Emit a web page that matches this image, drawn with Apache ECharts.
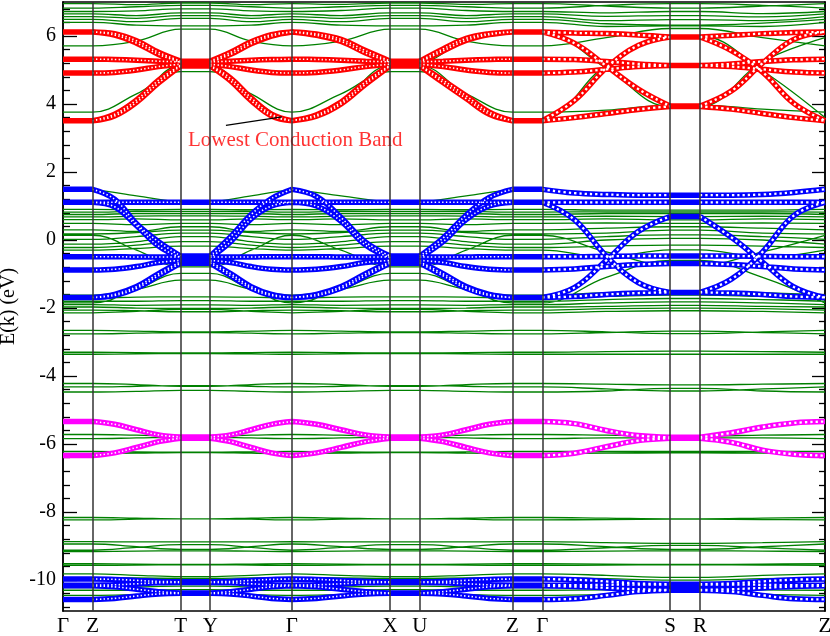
<!DOCTYPE html>
<html><head><meta charset="utf-8">
<script src="https://cdn.jsdelivr.net/npm/echarts@6/dist/echarts.min.js"></script>
<style>html,body{margin:0;padding:0;background:#fff}#c{width:830px;height:636px}</style>
</head><body><div id="c"></div>
<script>
// ---- k-path: high-symmetry points ----
const K_LABELS = ['Γ','Z','T','Y','Γ','X','U','Z','Γ','S','R','Z'];
const K_TICKS = [0,29.6,117.6,147.3,229,327.3,357,449.6,479.6,607.3,637.3,762.3];
const V_LINES = [29.6,117.6,147.3,229,327.3,357,449.6,479.6,607.3,637.3];
// nodes for fat (projected) bands: HS points + 3 interior points per dispersive segment
const K_FAT = [0,29.6,51.6,73.6,95.6,117.6,147.3,167.7,188.2,208.6,229,253.6,278.2,302.7,327.3,357,380.2,403.3,426.5,449.6,479.6,511.5,543.5,575.4,607.3,637.3,668.6,699.8,731.1,762.3];
// nodes for plain bands: HS points + middle of each dispersive segment
const K_GREEN = [0,29.6,73.6,117.6,147.3,188.2,229,278.2,327.3,357,403.3,449.6,479.6,543.5,607.3,637.3,699.8,762.3];

// ---- y ticks ----
const Y_MAJOR = [-10,-8,-6,-4,-2,0,2,4,6];
const Y_MINOR = [-10.8,-10.4,-9.6,-9.2,-8.8,-8.4,-7.6,-7.2,-6.8,-6.4,-5.6,-5.2,-4.8,-4.4,-3.6,-3.2,-2.8,-2.4,-1.6,-1.2,-0.8,-0.4,0.4,0.8,1.2,1.6,2.4,2.8,3.2,3.6,4.4,4.8,5.2,5.6,6.4,6.8];

// ---- projected bands (red: conduction) ----
const RED1 = [6.12,6.12, 6.07,5.86,5.52, 5.26, 5.26, 5.52,5.83,6.04, 6.12, 6.06,5.9,5.57, 5.26, 5.26, 5.62,5.93,6.07, 6.12, 6.12, 6.09,6.07,6.03, 5.97, 5.97, 6.02,6.07,6.1, 6.12];
const RED2 = [6.12,6.12, 6.03,5.79,5.46, 5.23, 5.23, 5.46,5.77,6.0, 6.12, 6.02,5.84,5.5, 5.23, 5.23, 5.56,5.87,6.04, 6.12, 6.12, 5.79,5.12,4.44, 3.94, 3.94, 4.38,5.2,5.9, 6.12];
const RED3 = [5.32,5.32, 5.31,5.29,5.26, 5.24, 5.24, 5.26,5.29,5.31, 5.32, 5.31,5.29,5.26, 5.24, 5.24, 5.26,5.29,5.31, 5.32, 5.32, 5.31,5.25,5.18, 5.13, 5.13, 5.18,5.25,5.3, 5.32];
const RED4 = [4.91,4.91, 4.93,5.0,5.1, 5.17, 5.17, 5.1,5.0,4.93, 4.91, 4.93,5.0,5.1, 5.17, 5.17, 5.1,5.0,4.93, 4.91, 4.91, 4.94,5.02,5.1, 5.13, 5.13, 5.1,5.02,4.94, 4.91];
const RED5 = [3.51,3.51, 3.7,4.12,4.7, 5.14, 5.14, 4.76,4.18,3.7, 3.51, 3.68,4.06,4.65, 5.14, 5.14, 4.7,4.24,3.76, 3.51, 3.51, 4.1,5.06,5.72, 5.97, 5.97, 5.57,4.94,4.02, 3.51];
const RED6 = [3.51,3.51, 3.65,4.05,4.62, 5.12, 5.12, 4.68,4.1,3.65, 3.51, 3.64,4.0,4.58, 5.12, 5.12, 4.63,4.16,3.7, 3.51, 3.51, 3.6,3.72,3.84, 3.93, 3.93, 3.85,3.72,3.6, 3.51];
// ---- blue: upper valence ----
const BLUE1 = [1.49,1.49, 1.2,0.48,-0.05, -0.47, -0.47, 0.1,0.75,1.22, 1.49, 1.28,0.66,-0.06, -0.47, -0.47, 0.06,0.73,1.25, 1.49, 1.49, 1.38,1.34,1.32, 1.32, 1.32, 1.32,1.34,1.4, 1.49];
const BLUE2 = [1.11,1.11, 0.98,0.42,-0.18, -0.52, -0.52, -0.05,0.62,1.0, 1.11, 1.0,0.55,-0.15, -0.52, -0.52, -0.05,0.6,1.0, 1.11, 1.11, 0.6,-0.47,-1.25, -1.54, -1.54, -1.15,-0.35,0.72, 1.11];
const BLUE3 = [1.11,1.11, 1.11,1.11,1.11, 1.11, 1.11, 1.11,1.11,1.11, 1.11, 1.11,1.11,1.11, 1.11, 1.11, 1.11,1.11,1.11, 1.11, 1.11, 1.11,1.11,1.11, 1.11, 1.11, 1.11,1.11,1.11, 1.11];
const BLUE4 = [-0.49,-0.49, -0.49,-0.5,-0.5, -0.5, -0.5, -0.5,-0.5,-0.49, -0.49, -0.49,-0.5,-0.5, -0.5, -0.5, -0.5,-0.5,-0.49, -0.49, -0.49, -0.49,-0.48,-0.47, -0.47, -0.47, -0.47,-0.48,-0.49, -0.49];
const BLUE5 = [-0.88,-0.88, -0.86,-0.78,-0.66, -0.6, -0.6, -0.66,-0.78,-0.86, -0.88, -0.86,-0.78,-0.66, -0.6, -0.6, -0.66,-0.78,-0.86, -0.88, -0.88, -0.85,-0.78,-0.72, -0.69, -0.69, -0.72,-0.78,-0.85, -0.88];
const BLUE6 = [-1.69,-1.69, -1.6,-1.37,-0.99, -0.64, -0.64, -0.99,-1.37,-1.6, -1.69, -1.6,-1.37,-0.99, -0.64, -0.64, -0.99,-1.37,-1.6, -1.69, -1.69, -1.4,-0.6,0.25, 0.69, 0.69, 0.08,-0.65,-1.38, -1.69];
const BLUE7 = [-1.69,-1.69, -1.63,-1.42,-1.05, -0.68, -0.68, -1.05,-1.42,-1.63, -1.69, -1.63,-1.42,-1.05, -0.68, -0.68, -1.05,-1.42,-1.63, -1.69, -1.69, -1.66,-1.6,-1.56, -1.54, -1.54, -1.56,-1.6,-1.66, -1.69];
// ---- magenta ----
const MAG1 = [-5.34,-5.34, -5.42,-5.58,-5.73, -5.79, -5.79, -5.73,-5.58,-5.42, -5.34, -5.42,-5.58,-5.73, -5.79, -5.79, -5.73,-5.58,-5.42, -5.34, -5.34, -5.4,-5.6,-5.75, -5.8, -5.8, -5.67,-5.5,-5.38, -5.34];
const MAG2 = [-6.34,-6.34, -6.26,-6.1,-5.93, -5.83, -5.83, -5.93,-6.1,-6.26, -6.34, -6.26,-6.1,-5.93, -5.83, -5.83, -5.93,-6.1,-6.26, -6.34, -6.34, -6.27,-6.08,-5.9, -5.83, -5.83, -5.95,-6.18,-6.3, -6.34];
// ---- blue: deep bands ----
const LOW1 = [-9.97,-9.97, -9.98,-10.01,-10.04, -10.05, -10.05, -10.04,-10.01,-9.98, -9.97, -9.98,-10.01,-10.04, -10.05, -10.05, -10.04,-10.01,-9.98, -9.97, -9.97, -9.99,-10.04,-10.1, -10.12, -10.12, -10.1,-10.04,-9.99, -9.97];
const LOW2 = [-10.15,-10.15, -10.14,-10.11,-10.08, -10.07, -10.07, -10.08,-10.11,-10.14, -10.15, -10.14,-10.11,-10.08, -10.07, -10.07, -10.08,-10.11,-10.14, -10.15, -10.15, -10.15,-10.14,-10.13, -10.13, -10.13, -10.13,-10.14,-10.15, -10.15];
const LOW3 = [-10.17,-10.17, -10.2,-10.27,-10.34, -10.38, -10.38, -10.34,-10.27,-10.2, -10.17, -10.2,-10.27,-10.34, -10.38, -10.38, -10.34,-10.27,-10.2, -10.17, -10.17, -10.19,-10.23,-10.27, -10.29, -10.29, -10.27,-10.23,-10.19, -10.17];
const LOW4 = [-10.57,-10.57, -10.54,-10.47,-10.41, -10.39, -10.39, -10.41,-10.47,-10.54, -10.57, -10.54,-10.47,-10.41, -10.39, -10.39, -10.41,-10.47,-10.54, -10.57, -10.57, -10.55,-10.45,-10.34, -10.3, -10.3, -10.34,-10.45,-10.55, -10.57];

// ---- all bands (green), 18 nodes each ----
const G_TOP1 = [6.95,6.95, 6.92, 6.97,6.97, 6.92, 6.95, 6.93, 6.97,6.97, 6.93, 6.95,6.95, 6.88, 6.82,6.82, 6.88, 6.95];
const G_TOP2 = [6.82,6.82, 6.86, 6.9,6.9, 6.86, 6.82, 6.86, 6.9,6.9, 6.86, 6.82,6.82, 6.9, 6.95,6.95, 6.9, 6.82];
const G_TOP3 = [6.72,6.72, 6.74, 6.8,6.8, 6.74, 6.72, 6.75, 6.82,6.82, 6.75, 6.72,6.72, 6.68, 6.72,6.72, 6.66, 6.72];
const G_TOP4 = [6.65,6.65, 6.6, 6.68,6.68, 6.6, 6.65, 6.6, 6.68,6.68, 6.6, 6.65,6.65, 6.58, 6.6,6.6, 6.56, 6.65];
const G_TOP5 = [6.57,6.57, 6.52, 6.6,6.6, 6.52, 6.57, 6.52, 6.6,6.6, 6.52, 6.57,6.57, 6.45, 6.48,6.48, 6.45, 6.57];
const G_TOP6 = [6.49,6.49, 6.42, 6.52,6.52, 6.42, 6.49, 6.42, 6.52,6.52, 6.42, 6.49,6.49, 6.36, 6.32,6.32, 6.38, 6.49];
const G_TOP7 = [6.4,6.4, 6.32, 6.3,6.3, 6.32, 6.4, 6.32, 6.3,6.3, 6.32, 6.4,6.4, 6.28, 6.3,6.3, 6.28, 6.4];
const G_C1 = [5.71,5.71, 5.85, 6.2,6.2, 5.85, 5.71, 5.85, 6.2,6.2, 5.85, 5.71,5.71, 5.95, 6.22,6.22, 5.95, 5.71];
const G_C2 = [3.76,3.76, 4.3, 4.95,4.95, 4.3, 3.76, 4.3, 4.95,4.95, 4.3, 3.76,3.76, 3.82, 3.97,3.97, 3.85, 3.76];
const G_C3 = [3.56,3.56, 4.15, 5.12,5.12, 4.2, 3.56, 4.1, 5.12,5.12, 4.25, 3.56,3.56, 5.15, 6.0,6.0, 4.98, 3.6];
const G_C4 = [6.1,6.1, 5.8, 5.24,5.24, 5.78, 6.1, 5.84, 5.24,5.24, 5.88, 6.1,6.1, 5.05, 3.92,3.92, 5.25, 5.95];
const G_V0 = [1.46,1.46, 1.3, 1.14,1.14, 1.3, 1.46, 1.3, 1.14,1.14, 1.3, 1.46,1.46, 1.38, 1.3,1.3, 1.38, 1.46];
const G_V1 = [0.9,0.9, 0.89, 0.9,0.9, 0.89, 0.9, 0.89, 0.9,0.9, 0.89, 0.9,0.9, 0.88, 0.88,0.88, 0.88, 0.9];
const G_V2 = [0.82,0.82, 0.84, 0.84,0.84, 0.84, 0.82, 0.84, 0.84,0.84, 0.84, 0.82,0.82, 0.83, 0.83,0.83, 0.83, 0.82];
const G_V3 = [0.75,0.75, 0.78, 0.78,0.78, 0.78, 0.75, 0.78, 0.78,0.78, 0.78, 0.75,0.75, 0.78, 0.78,0.78, 0.78, 0.75];
const G_V4 = [0.68,0.68, 0.7, 0.71,0.71, 0.7, 0.68, 0.7, 0.71,0.71, 0.7, 0.68,0.68, 0.7, 0.69,0.69, 0.7, 0.68];
const G_V5 = [0.6,0.6, 0.62, 0.59,0.59, 0.62, 0.6, 0.62, 0.59,0.59, 0.62, 0.6,0.6, 0.62, 0.59,0.59, 0.62, 0.6];
const G_V6 = [0.49,0.49, 0.45, 0.49,0.49, 0.45, 0.49, 0.45, 0.49,0.49, 0.45, 0.49,0.49, 0.5, 0.49,0.49, 0.5, 0.49];
const G_V7 = [0.3,0.3, 0.25, 0.39,0.39, 0.25, 0.3, 0.25, 0.39,0.39, 0.25, 0.3,0.3, 0.35, 0.39,0.39, 0.35, 0.3];
const G_V8 = [0.18,0.18, 0.22, 0.29,0.29, 0.22, 0.18, 0.22, 0.29,0.29, 0.22, 0.18,0.18, 0.2, 0.29,0.29, 0.2, 0.18];
const G_V9 = [0.02,0.02, 0.1, 0.2,0.2, 0.1, 0.02, 0.1, 0.2,0.2, 0.1, 0.02,0.02, 0.1, 0.15,0.15, 0.1, 0.02];
const G_V10 = [-0.12,-0.12, -0.05, 0.1,0.1, -0.05, -0.12, -0.05, 0.1,0.1, -0.05, -0.12,-0.12, 0.0, 0.05,0.05, 0.0, -0.12];
const G_V11 = [-0.22,-0.22, -0.15, -0.05,-0.05, -0.15, -0.22, -0.15, -0.05,-0.05, -0.15, -0.22,-0.22, -0.18, -0.15,-0.15, -0.18, -0.22];
const G_V12 = [0.14,0.14, -0.3, -0.79,-0.79, -0.3, 0.14, -0.3, -0.79,-0.79, -0.3, 0.14,0.14, -0.35, -0.74,-0.74, -0.35, 0.14];
const G_V13 = [-0.3,-0.3, -0.25, -0.18,-0.18, -0.25, -0.3, -0.25, -0.18,-0.18, -0.25, -0.3,-0.3, -0.5, -0.29,-0.29, -0.5, -0.3];
const G_V14 = [-1.85,-1.85, -1.45, -0.98,-0.98, -1.45, -1.85, -1.45, -0.98,-0.98, -1.45, -1.85,-1.85, -1.1, -0.6,-0.6, -1.1, -1.85];
const G_V15 = [-1.62,-1.62, -1.45, -1.18,-1.18, -1.45, -1.62, -1.45, -1.18,-1.18, -1.45, -1.62,-1.62, -1.55, -1.52,-1.52, -1.55, -1.62];
const G_V16 = [-1.7,-1.7, -1.68, -1.67,-1.67, -1.68, -1.7, -1.68, -1.67,-1.67, -1.68, -1.7,-1.7, -1.66, -1.62,-1.62, -1.66, -1.7];
const G_V17 = [-1.8,-1.8, -1.8, -1.78,-1.78, -1.8, -1.8, -1.8, -1.78,-1.78, -1.8, -1.8,-1.8, -1.75, -1.72,-1.72, -1.75, -1.8];
const G_V18 = [-1.9,-1.9, -1.92, -1.91,-1.91, -1.92, -1.9, -1.92, -1.91,-1.91, -1.92, -1.9,-1.9, -1.85, -1.82,-1.82, -1.85, -1.9];
const G_V19 = [-1.97,-1.97, -2.0, -2.01,-2.01, -2.0, -1.97, -2.0, -2.01,-2.01, -2.0, -1.97,-1.97, -1.95, -1.92,-1.92, -1.95, -1.97];
const G_V20 = [-2.06,-2.06, -2.08, -2.11,-2.11, -2.08, -2.06, -2.08, -2.11,-2.11, -2.08, -2.06,-2.06, -2.02, -2.0,-2.0, -2.02, -2.06];
const G_V21 = [-2.14,-2.14, -2.1, -2.04,-2.04, -2.1, -2.14, -2.1, -2.04,-2.04, -2.1, -2.14,-2.14, -2.1, -2.08,-2.08, -2.1, -2.14];
const G_L1 = [-2.66,-2.66, -2.68, -2.7,-2.7, -2.68, -2.66, -2.68, -2.7,-2.7, -2.68, -2.66,-2.66, -2.7, -2.75,-2.75, -2.7, -2.66];
const G_L2 = [-2.76,-2.76, -2.74, -2.72,-2.72, -2.74, -2.76, -2.74, -2.72,-2.72, -2.74, -2.76,-2.76, -2.72, -2.68,-2.68, -2.72, -2.76];
const G_L3 = [-3.3,-3.3, -3.31, -3.32,-3.32, -3.31, -3.3, -3.31, -3.32,-3.32, -3.31, -3.3,-3.3, -3.28, -3.27,-3.27, -3.28, -3.3];
const G_L4 = [-3.36,-3.36, -3.35, -3.34,-3.34, -3.35, -3.36, -3.35, -3.34,-3.34, -3.35, -3.36,-3.36, -3.36, -3.36,-3.36, -3.36, -3.36];
const G_L5 = [-4.22,-4.22, -4.25, -4.3,-4.3, -4.25, -4.22, -4.25, -4.3,-4.3, -4.25, -4.22,-4.22, -4.24, -4.26,-4.26, -4.24, -4.22];
const G_L6 = [-4.32,-4.32, -4.3, -4.28,-4.28, -4.3, -4.32, -4.3, -4.28,-4.28, -4.3, -4.32,-4.32, -4.38, -4.44,-4.44, -4.38, -4.32];
const G_L7 = [-4.47,-4.47, -4.45, -4.42,-4.42, -4.45, -4.47, -4.45, -4.42,-4.42, -4.45, -4.47,-4.47, -4.44, -4.36,-4.36, -4.44, -4.47];
const G_L8 = [-5.72,-5.72, -5.74, -5.76,-5.76, -5.74, -5.72, -5.74, -5.76,-5.76, -5.74, -5.72,-5.72, -5.74, -5.76,-5.76, -5.74, -5.72];
const G_L9 = [-5.84,-5.84, -5.82, -5.8,-5.8, -5.82, -5.84, -5.82, -5.8,-5.8, -5.82, -5.84,-5.84, -5.82, -5.82,-5.82, -5.82, -5.84];
const G_L10 = [-6.22,-6.22, -6.23, -6.24,-6.24, -6.23, -6.22, -6.23, -6.24,-6.24, -6.23, -6.22,-6.22, -6.22, -6.22,-6.22, -6.22, -6.22];
const G_L11 = [-6.28,-6.28, -6.27, -6.25,-6.25, -6.27, -6.28, -6.27, -6.25,-6.25, -6.27, -6.28,-6.28, -6.27, -6.26,-6.26, -6.27, -6.28];
const G_L12 = [-8.16,-8.16, -8.18, -8.2,-8.2, -8.18, -8.16, -8.18, -8.2,-8.2, -8.18, -8.16,-8.16, -8.18, -8.2,-8.2, -8.18, -8.16];
const G_L13 = [-8.23,-8.23, -8.21, -8.2,-8.2, -8.21, -8.23, -8.21, -8.2,-8.2, -8.21, -8.23,-8.23, -8.22, -8.21,-8.21, -8.22, -8.23];
const G_L14 = [-8.87,-8.87, -8.88, -8.88,-8.88, -8.88, -8.87, -8.88, -8.88,-8.88, -8.88, -8.87,-8.87, -8.9, -8.92,-8.92, -8.9, -8.87];
const G_L15 = [-8.94,-8.94, -9.02, -9.1,-9.1, -9.02, -8.94, -9.02, -9.1,-9.1, -9.02, -8.94,-8.94, -9.02, -9.1,-9.1, -9.02, -8.94];
const G_L16 = [-9.12,-9.12, -9.04, -8.96,-8.96, -9.04, -9.12, -9.04, -8.96,-8.96, -9.04, -9.12,-9.12, -9.05, -8.98,-8.98, -9.05, -9.12];
const G_L17 = [-9.16,-9.16, -9.15, -9.14,-9.14, -9.15, -9.16, -9.15, -9.14,-9.14, -9.15, -9.16,-9.16, -9.15, -9.14,-9.14, -9.15, -9.16];
const G_L18 = [-9.52,-9.52, -9.53, -9.54,-9.54, -9.53, -9.52, -9.53, -9.54,-9.54, -9.53, -9.52,-9.52, -9.53, -9.54,-9.54, -9.53, -9.52];
const G_L19 = [-9.57,-9.57, -9.56, -9.55,-9.55, -9.56, -9.57, -9.56, -9.55,-9.55, -9.56, -9.57,-9.57, -9.56, -9.55,-9.55, -9.56, -9.57];
const G_L20 = [-9.82,-9.82, -9.86, -9.9,-9.9, -9.86, -9.82, -9.86, -9.9,-9.9, -9.86, -9.82,-9.82, -9.86, -9.92,-9.92, -9.86, -9.82];
const G_L21 = [-9.93,-9.93, -9.94, -9.95,-9.95, -9.94, -9.93, -9.94, -9.95,-9.95, -9.94, -9.93,-9.93, -9.96, -10.0,-10.0, -9.96, -9.93];
const G_L22 = [-10.22,-10.22, -10.2, -10.18,-10.18, -10.2, -10.22, -10.2, -10.18,-10.18, -10.2, -10.22,-10.22, -10.2, -10.18,-10.18, -10.2, -10.22];
const G_L23 = [-10.3,-10.3, -10.3, -10.28,-10.28, -10.3, -10.3, -10.3, -10.28,-10.28, -10.3, -10.3,-10.3, -10.29, -10.26,-10.26, -10.29, -10.3];
const G_L24 = [-10.45,-10.45, -10.43, -10.4,-10.4, -10.43, -10.45, -10.43, -10.4,-10.4, -10.43, -10.45,-10.45, -10.42, -10.35,-10.35, -10.42, -10.45];

// annotation
const NOTE_TEXT = 'Lowest Conduction Band';
const NOTE_POS = [125, 2.94];
const NOTE_LINE = [[163, 3.37], [219, 3.62]];

// ---------- build ----------
const GREEN_BANDS = [G_TOP1,G_TOP2,G_TOP3,G_TOP4,G_TOP5,G_TOP6,G_TOP7,G_C1,G_C2,G_C3,G_C4,
  G_V0,G_V1,G_V2,G_V3,G_V4,G_V5,G_V6,G_V7,G_V8,G_V9,G_V10,G_V11,G_V12,G_V13,G_V14,G_V15,G_V16,G_V17,G_V18,G_V19,G_V20,G_V21,
  G_L1,G_L2,G_L3,G_L4,G_L5,G_L6,G_L7,G_L8,G_L9,G_L10,G_L11,G_L12,G_L13,G_L14,G_L15,G_L16,G_L17,G_L18,G_L19,G_L20,G_L21,G_L22,G_L23,G_L24];

const FLAT_SEGS = [[0,1],[5,6],[14,15],[19,20],[24,25]];
const DENSE_SEGS = [[1,5],[6,10],[10,14],[15,19]];
const SPARSE_SEGS = [[20,24],[25,29]];

function pieces(bands, segs) {
  const out = [];
  bands.forEach(b => segs.forEach(([a, z]) => {
    for (let i = a; i <= z; i++) out.push([K_FAT[i], b[i]]);
    out.push([K_FAT[z], '-']);
  }));
  return out;
}
function greenData(bands) {
  const out = [];
  bands.forEach(b => {
    b.forEach((v, i) => out.push([K_GREEN[i], v]));
    out.push([0, '-']);
  });
  return out;
}

const GROUPS = [
  {bands: [RED1,RED2,RED3,RED4,RED5,RED6], color: '#ff0000'},
  {bands: [BLUE1,BLUE2,BLUE3,BLUE4,BLUE5,BLUE6,BLUE7], color: '#0000ff'},
  {bands: [MAG1,MAG2], color: '#ff00ff'},
  {bands: [LOW1,LOW2,LOW3,LOW4], color: '#0000ff'}
];

const SERIF = "'Liberation Serif','Times New Roman',serif";
const base = {type: 'line', symbol: 'none', showSymbol: false, silent: true, animation: false, connectNulls: false};

const series = [];
series.push(Object.assign({}, base, {
  data: greenData(GREEN_BANDS), smooth: 0.4,
  lineStyle: {color: '#008000', width: 1.3},
  markLine: {silent: true, symbol: ['none','none'], label: {show: false}, animation: false,
    lineStyle: {color: '#333', width: 1.5, type: 'solid'},
    data: V_LINES.map(k => ({xAxis: k}))}
}));
GROUPS.forEach(g => {
  series.push(Object.assign({}, base, {data: pieces(g.bands, DENSE_SEGS.concat(SPARSE_SEGS)), smooth: 0.4,
    lineStyle: {color: g.color, width: 5.5}}));
  series.push(Object.assign({}, base, {data: pieces(g.bands, FLAT_SEGS), smooth: false,
    lineStyle: {color: g.color, width: 5.5}}));
});
GROUPS.forEach(g => {
  series.push(Object.assign({}, base, {data: pieces(g.bands, DENSE_SEGS), smooth: 0.4,
    lineStyle: {color: '#ffffff', width: 1.6, type: [1.4, 2.3]}}));
  series.push(Object.assign({}, base, {data: pieces(g.bands, SPARSE_SEGS), smooth: 0.4,
    lineStyle: {color: '#ffffff', width: 2.3, type: [2.3, 3.0]}}));
});
series.push(Object.assign({}, base, {data: NOTE_LINE, smooth: false, lineStyle: {color: '#000', width: 1.2}}));
series.push({type: 'scatter', silent: true, animation: false, symbolSize: 0, data: [NOTE_POS],
  label: {show: true, position: 'right', distance: 0, formatter: NOTE_TEXT, color: '#ff0000', fontFamily: SERIF, fontSize: 21}});

const YMIN = -10.91, YMAX = 7;
function yAx(pos, ticks, len, extra) {
  return Object.assign({type: 'value', min: YMIN, max: YMAX, position: pos,
    axisLine: {show: true, onZero: false, lineStyle: {color: '#000', width: 1.5}},
    axisTick: {show: true, inside: true, length: len, customValues: ticks, lineStyle: {color: '#000', width: 1.3}},
    axisLabel: {show: false}, splitLine: {show: false}}, extra || {});
}

const option = {
  animation: false,
  backgroundColor: '#fff',
  grid: {left: 63, right: 5, top: 2, bottom: 25, containLabel: false, outerBoundsMode: 'none'},
  xAxis: [
    {type: 'value', min: 0, max: 762.3, position: 'bottom',
     axisLine: {show: true, onZero: false, lineStyle: {color: '#000', width: 1.5}},
     axisTick: {show: false}, splitLine: {show: false},
     axisLabel: {customValues: K_TICKS, hideOverlap: false, showMinLabel: true, showMaxLabel: true,
       formatter: v => { const i = K_TICKS.findIndex(t => Math.abs(t - v) < 1e-6); return i >= 0 ? K_LABELS[i] : ''; },
       fontFamily: SERIF, fontSize: 21, color: '#000', margin: 5}},
    {type: 'value', min: 0, max: 762.3, position: 'top',
     axisLine: {show: true, onZero: false, lineStyle: {color: '#000', width: 1.5}},
     axisTick: {show: false}, axisLabel: {show: false}, splitLine: {show: false}}
  ],
  yAxis: [
    yAx('left', Y_MAJOR, 14, {
      axisLabel: {show: true, customValues: Y_MAJOR, fontFamily: SERIF, fontSize: 20, color: '#000', margin: 7},
      name: 'E(k) (eV)', nameLocation: 'middle', nameGap: 43,
      nameTextStyle: {fontFamily: SERIF, fontSize: 20, color: '#000'}}),
    yAx('left', Y_MINOR, 7),
    yAx('right', Y_MAJOR, 13),
    yAx('right', Y_MINOR, 6)
  ],
  series: series
};
const chart = echarts.init(document.getElementById('c'), null, {renderer: 'canvas'});
chart.setOption(option);
</script>
</body></html>
